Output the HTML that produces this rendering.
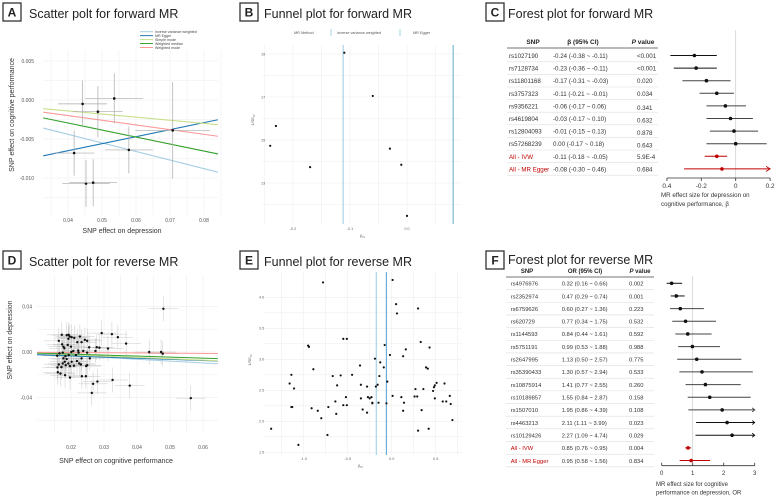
<!DOCTYPE html>
<html><head><meta charset="utf-8"><style>
html,body{margin:0;padding:0;background:#fff;}
svg{display:block;font-family:"Liberation Sans",sans-serif;}
</style></head><body>
<svg id="fig" width="777" height="499" viewBox="0 0 777 499">
<g id="labels"></g>
<g id="pA"></g>
<g id="pB"></g>
<g id="pC"></g>
<g id="pD"></g>
<g id="pE"></g>
<g id="pF"></g>
</svg>
<script>
// ---------- Panel A data ----------
const aX = [0.0443,0.0536,0.0488,0.0418,0.0579,0.0708,0.0453,0.0474];
const aY = [-0.0005,0.0002,-0.0015,-0.0068,-0.0064,-0.0039,-0.0107,-0.0106];
const aXse = [0.0072,0.0085,0.0073,0.006,0.007,0.011,0.007,0.007];
const aYse = [0.003,0.0032,0.0033,0.0029,0.003,0.0062,0.003,0.003];
const aMethods = ["Inverse variance weighted","MR Egger","Simple mode","Weighted median","Weighted mode"];
const aSlopes = [-0.11,0.09,-0.04,-0.09,-0.06];
const aIntercepts = [0,-0.0101,0.0002,0.00065,0.0004];
const aXTicks = [0.04,0.05,0.06,0.07,0.08];
const aYTicks = [0.005,0,-0.005,-0.010];
const aYTickLabels = ["0.005","0.000","-0.005","-0.010"];
// ---------- Panel B data ----------
const bBeta = [-0.11,-0.06,-0.23,-0.24,-0.17,-0.03,-0.01,0.00];
const bPrec = [19.06,17.05,15.65,14.73,13.74,14.6,13.85,11.47];
const bLines = [-0.112,0.081];
const bXTicks = [-0.2,-0.1,0.0];
const bYTicks = [19,17,15,13];
// ---------- Panel C data ----------
const cSnp = ["rs1027190","rs7128734","rs11801168","rs3757323","rs9356221","rs4619804","rs12804093","rs57268239","All - IVW","All - MR Egger"];
const cBeta = [-0.24,-0.23,-0.17,-0.11,-0.06,-0.03,-0.01,0.00,-0.11,-0.08];
const cLo = [-0.38,-0.36,-0.31,-0.21,-0.17,-0.17,-0.15,-0.17,-0.18,-0.30];
const cHi = [-0.11,-0.11,-0.03,-0.01,0.06,0.10,0.13,0.18,-0.05,0.46];
const cCI = ["-0.24 (-0.38 ~ -0.11)","-0.23 (-0.36 ~ -0.11)","-0.17 (-0.31 ~ -0.03)","-0.11 (-0.21 ~ -0.01)","-0.06 (-0.17 ~ 0.06)","-0.03 (-0.17 ~ 0.10)","-0.01 (-0.15 ~ 0.13)","0.00 (-0.17 ~ 0.18)","-0.11 (-0.18 ~ -0.05)","-0.08 (-0.30 ~ 0.46)"];
const cP = ["<0.001","<0.001","0.020","0.034","0.341","0.632","0.878","0.643","5.9E-4","0.684"];
const cXTicks = [-0.4,-0.2,0,0.2];
const cXTickLabels = ["0.4","-0.2","0","0.2"];
// ---------- Panel D data ----------
const dX = [0.0172,0.0163,0.0173,0.0177,0.0187,0.0193,0.0196,0.0202,0.0192,0.0210,0.0227,0.0232,0.0242,0.0249,0.0255,0.0219,0.0190,0.0200,0.0180,0.0158,0.0165,0.0175,0.0183,0.0193,0.0201,0.0207,0.0222,0.0249,0.0257,0.0232,0.0225,0.0218,0.0202,0.0192,0.0181,0.0175,0.0163,0.0159,0.0171,0.0184,0.0197,0.0209,0.0230,0.0249,0.0246,0.0168,0.0182,0.0197,0.0233,0.0245,0.0160,0.0177,0.0187,0.0215,0.0223,0.0237,
 0.048,0.0563,0.0378,0.0326,0.028,0.0267,0.0263,0.0293,0.0324,0.0342,0.0367,0.0312,0.0278,0.0274,0.0286,0.0437,0.0473,0.0478];
const dY = [0.0151,0.0098,0.0068,0.0047,0.0148,0.0151,0.0136,0.0130,0.0116,0.0124,0.0136,0.0086,0.0107,0.0098,0.0041,0.0086,0.0062,0.0047,0.0033,-0.0033,-0.0012,-0.0006,-0.0036,-0.0027,0.0000,0.0009,0.0012,-0.0006,-0.0056,-0.0056,-0.0101,-0.0080,-0.0086,-0.0101,-0.0086,-0.0101,-0.0110,-0.0136,-0.0133,-0.0116,-0.0124,-0.0121,-0.0110,-0.0116,-0.0124,-0.0190,-0.0204,-0.0225,-0.0213,-0.0213,-0.0178,-0.0056,-0.0062,-0.0027,-0.0006,0.0009,
 0.038,-0.0406,-0.0296,-0.0246,-0.026,-0.028,-0.036,0.0166,0.0157,0.013,0.0074,0.003,0.0042,0.0009,0.0038,0.000,0.000,-0.0015];
const dSlopes = [-0.16,-0.10,-0.12,-0.09,-0.02];
const dIntercepts = [0,-0.0015,0,0,0];
const dXTicks = [0.02,0.03,0.04,0.05,0.06];
const dYTicks = [0.04,0,-0.04];
const dYTickLabels = ["0.04","0.00","-0.04"];
// ---------- Panel E data ----------
const eBeta = [-0.78,0.01,0.05,0.06,0.30,0.33,0.43,0.16,0.13,-0.02,-0.08,-0.19,-0.13,-0.09,-0.36,-0.55,-0.51,-0.95,-0.94,-0.89,-1.14,-1.16,-1.11,-1.14,-1.13,-1.37,-1.06,-0.80,-0.84,-0.91,-0.72,-0.73,-0.67,-0.62,-0.58,-0.64,-0.63,-0.55,-0.51,-0.52,-0.45,-0.35,-0.35,-0.33,-0.28,-0.28,-0.27,-0.25,-0.23,-0.22,-0.22,-0.18,-0.16,-0.15,-0.14,-0.05,-0.06,0.01,0.11,0.14,0.13,0.27,0.26,0.29,0.36,0.30,0.39,0.41,0.34,0.42,0.47,0.48,0.49,0.51,0.49,0.60,0.58,0.62,0.66,0.67,0.69];
const ePrec = [4.24,4.28,3.89,3.74,3.82,3.28,3.19,3.16,3.05,3.07,3.23,3.01,2.95,2.87,2.90,3.33,3.33,3.22,3.20,2.84,2.75,2.61,2.53,2.23,2.23,1.88,1.62,2.05,2.17,2.21,2.23,1.78,2.73,2.58,2.74,2.32,2.12,2.26,2.26,2.39,2.75,2.59,2.37,2.19,2.14,2.56,2.39,2.37,2.39,2.30,2.29,2.56,2.59,2.30,2.73,2.64,2.29,2.41,2.39,2.30,2.17,2.52,2.40,2.40,2.52,1.85,2.87,2.85,2.18,1.88,2.49,2.55,2.58,2.62,2.37,2.61,2.32,2.32,2.41,2.28,2.02];
const eLines = [-0.175,-0.06];
const eXTicks = [-1.0,-0.5,0.0,0.5];
const eYTicks = [4.0,3.5,3.0,2.5,2.0,1.5];
// ---------- Panel F data ----------
const fSnp = ["rs4976976","rs2352974","rs6759626","rs620729","rs1144593","rs5751191","rs2647995","rs35390433","rs10875914","rs10189857","rs1507010","rs4463213","rs10129426","All - IVW","All - MR Egger"];
const fOR = [0.32,0.47,0.60,0.77,0.84,0.99,1.13,1.30,1.41,1.55,1.95,2.11,2.27,0.85,0.95];
const fLo = [0.16,0.29,0.27,0.34,0.44,0.53,0.50,0.57,0.77,0.84,0.86,1.11,1.09,0.76,0.58];
const fHi = [0.66,0.74,1.36,1.75,1.61,1.88,2.57,2.94,2.55,2.87,4.39,3.99,4.74,0.95,1.56];
const fCI = ["0.32 (0.16 ~ 0.66)","0.47 (0.29 ~ 0.74)","0.60 (0.27 ~ 1.36)","0.77 (0.34 ~ 1.75)","0.84 (0.44 ~ 1.61)","0.99 (0.53 ~ 1.88)","1.13 (0.50 ~ 2.57)","1.30 (0.57 ~ 2.94)","1.41 (0.77 ~ 2.55)","1.55 (0.84 ~ 2.87)","1.95 (0.86 ~ 4.39)","2.11 (1.11 ~ 3.99)","2.27 (1.09 ~ 4.74)","0.85 (0.76 ~ 0.95)","0.95 (0.58 ~ 1.56)"];
const fP = ["0.002","0.001","0.223","0.532","0.592","0.988","0.775","0.533","0.260","0.158","0.108","0.023","0.029","0.004","0.834"];
const fXTicks = [0,1,2,3];

const NS="http://www.w3.org/2000/svg";
function mk(parent,tag,attrs,text){const e=document.createElementNS(NS,tag);for(const k in attrs)e.setAttribute(k,attrs[k]);if(text!==undefined)e.textContent=text;parent.appendChild(e);return e;}
const $=id=>document.getElementById(id);

// Panel labels + titles
const L=$("labels");
const boxes=[["A",3,3,"Scatter polt for forward MR",29,18],["B",240,3,"Funnel plot for forward MR",264,18],["C",486,3,"Forest plot for forward MR",508,18],
["D",3,251,"Scatter polt for reverse MR",29,266],["E",240,251,"Funnel plot for reverse MR",264,266],["F",486,251,"Forest plot for reverse MR",508,264]];
boxes.forEach(b=>{
  const r=mk(L,"rect",{x:b[1],y:b[2],width:18,height:18,fill:"#fff",stroke:"#333","stroke-width":1.3});
  
  
  const t=mk(L,"text",{x:b[1]+9,y:b[2]+13.5,"text-anchor":"middle","font-size":12,"font-weight":"bold",fill:"#222"},b[0]);
  
  
  const ti=mk(L,"text",{x:b[4],y:b[5],"font-size":12.5,fill:"#222"},b[3]);
  
  
});

// ---------- Panel A ----------
(function(){
  const g=$("pA");
  const x=v=>68+(v-0.04)*3400, y=v=>100-v*7800;
  const X0=43,X1=218,Y0=50,Y1=215;
  [0.035,0.045,0.055,0.065,0.075,0.085].concat(aXTicks).forEach(v=>{const l=mk(g,"line",{x1:x(v),x2:x(v),y1:Y0,y2:Y1,stroke:"#eee","stroke-width":0.6});});
  [0.0025,-0.0025,-0.0075,-0.0125].concat(aYTicks).forEach(v=>{const l=mk(g,"line",{x1:X0,x2:X1,y1:y(v),y2:y(v),stroke:"#eee","stroke-width":0.6});});
  aXTicks.forEach(v=>{const t=mk(g,"text",{x:x(v),y:Y1+7,"text-anchor":"middle","font-size":5,fill:"#555"},v.toFixed(2));});
  aYTicks.forEach((v,i)=>{const t=mk(g,"text",{x:34,y:y(v)+2,"text-anchor":"end","font-size":5,fill:"#555"},aYTickLabels[i]);});
  const colors=["#a6cee3","#1f78b4","#c9df8a","#33a02c","#fb9a99"];
  aMethods.forEach((m,i)=>{
    const v0=0.0327,v1=0.0841;
    const l=mk(g,"line",{x1:x(v0),y1:y(aIntercepts[i]+aSlopes[i]*v0),x2:x(v1),y2:y(aIntercepts[i]+aSlopes[i]*v1),stroke:colors[i],"stroke-width":1.1});
    
    
    const ll=mk(g,"line",{x1:140,x2:153,y1:31.7+i*3.95,y2:31.7+i*3.95,stroke:colors[i],"stroke-width":1});
    
    
    const lt=mk(g,"text",{x:155,y:33+i*3.95,"font-size":3.6,fill:"#444"},m);
    
    
  });
  aX.forEach((v,i)=>{
    const h=mk(g,"line",{x1:x(v-aXse[i]),x2:x(v+aXse[i]),y1:y(aY[i]),y2:y(aY[i]),stroke:"#aaa","stroke-width":0.7});
    
    const vv=mk(g,"line",{x1:x(v),x2:x(v),y1:y(aY[i]-aYse[i]),y2:y(aY[i]+aYse[i]),stroke:"#aaa","stroke-width":0.7});
    
    const c=mk(g,"circle",{cx:x(v),cy:y(aY[i]),r:1.3,fill:"#111"});
    
  });
  const xt=mk(g,"text",{x:122,y:233,"text-anchor":"middle","font-size":7,fill:"#333"},"SNP effect on depression");
  
  const yt=mk(g,"text",{transform:"translate(14,115) rotate(-90)","text-anchor":"middle","font-size":7,fill:"#333"},"SNP effect on cognitive performance");
  
})();

// ---------- Panel B ----------
(function(){
  const g=$("pB");
  const x=v=>407+v*570, y=v=>97-(v-17)*21.5;
  const X0=262,X1=462,Y0=45,Y1=224;
  [-0.25,-0.15,-0.05,0.05].concat(bXTicks).forEach(v=>{const l=mk(g,"line",{x1:x(v),x2:x(v),y1:Y0,y2:Y1,stroke:"#eee","stroke-width":0.6});});
  [18,16,14,12].concat(bYTicks).forEach(v=>{const l=mk(g,"line",{x1:X0,x2:X1,y1:y(v),y2:y(v),stroke:"#eee","stroke-width":0.6});});
  bXTicks.forEach(v=>{const t=mk(g,"text",{x:x(v),y:230,"text-anchor":"middle","font-size":3.8,fill:"#666"},v.toFixed(1));});
  bYTicks.forEach(v=>{const t=mk(g,"text",{x:261,y:y(v)+1.3,"font-size":3.8,fill:"#666"},v);});
  bLines.forEach((v,i)=>{const l=mk(g,"line",{x1:x(v),x2:x(v),y1:Y0,y2:Y1,stroke:i?"#7fb8d4":"#a9d3e6","stroke-width":1.2});});
  bBeta.forEach((v,i)=>{const c=mk(g,"circle",{cx:x(v),cy:y(bPrec[i]),r:1.1,fill:"#111"});});
  [["MR Method",294],["Inverse variance weighted",337],["MR Egger",413]].forEach(a=>{const t=mk(g,"text",{x:a[1],y:34,"font-size":3.8,fill:"#555"},a[0]);});
  [331,400].forEach(xx=>{const l=mk(g,"line",{x1:xx,x2:xx,y1:29,y2:36,stroke:"#a9d3e6","stroke-width":1});});
  const xt=mk(g,"text",{x:360,y:237,"font-size":4,fill:"#666"},"β");
  mk(xt,"tspan",{"font-size":3,dy:1},"IV");
  const yt=mk(g,"text",{transform:"translate(254,120) rotate(-90)","text-anchor":"middle","font-size":4,fill:"#666"},"1/SE");
  mk(yt,"tspan",{"font-size":3,dy:1},"IV");
})();

// ---------- Panel C ----------
(function(){
  const g=$("pC");
  const ry=i=>55.5+i*12.6;
  const x=v=>735.7+v*172;
  [["SNP",533,"normal"],["β (95% CI)",583,"normal"],["P value",643,"normal"]].forEach((h,i)=>{
    const t=mk(g,"text",{x:h[1],y:44,"text-anchor":"middle","font-size":6.5,"font-weight":"bold",fill:"#222"},i==2?"":h[0]);
    if(i==2){mk(t,"tspan",{"font-style":"italic"},"P");mk(t,"tspan",{}," value");}
    
  });
  const hl=mk(g,"line",{x1:507,x2:658,y1:48,y2:48,stroke:"#444","stroke-width":0.8});
  const rl=mk(g,"line",{x1:x(0),x2:x(0),y1:30,y2:178,stroke:"#ccc","stroke-width":0.7});
  cSnp.forEach((s,i)=>{
    const red=i>=8, col=red?"#c00000":"#333";
    const a=mk(g,"text",{x:509,y:ry(i)+2.5,"font-size":6.2,fill:col},s);
    const b=mk(g,"text",{x:553,y:ry(i)+2.5,"font-size":6.2,fill:"#333"},cCI[i]);
    const p=mk(g,"text",{x:637,y:ry(i)+2.5+(i>=4&&i<8?1.5:0),"font-size":6.2,fill:"#333"},cP[i]);
    const sep=mk(g,"line",{x1:507,x2:658,y1:ry(i)+6.3,y2:ry(i)+6.3,stroke:"#ddd","stroke-width":0.6});
    const lc=red?"#c00000":(i<2?"#111":"#444");
    const hi=Math.min(cHi[i],0.2);
    const ci=mk(g,"line",{x1:x(Math.max(cLo[i],-0.4)),x2:x(hi),y1:ry(i),y2:ry(i),stroke:lc,"stroke-width":1});
    if(cHi[i]>0.2){const ar=mk(g,"path",{d:`M${x(0.2)-4},${ry(i)-2.5} L${x(0.2)},${ry(i)} L${x(0.2)-4},${ry(i)+2.5}`,fill:"none",stroke:lc,"stroke-width":0.9});}
    const c=mk(g,"circle",{cx:x(cBeta[i]),cy:ry(i),r:1.8,fill:red?"#c00000":"#111"});
  });
  const ax=mk(g,"line",{x1:x(-0.4),x2:x(0.2),y1:178,y2:178,stroke:"#333","stroke-width":0.8});
  cXTicks.forEach((v,i)=>{
    const tk=mk(g,"line",{x1:x(v),x2:x(v),y1:178,y2:181,stroke:"#333","stroke-width":0.8});
    const t=mk(g,"text",{x:x(v),y:188,"text-anchor":"middle","font-size":6.5,fill:"#333"},cXTickLabels[i]);
  });
  ["MR effect size for depression on","cognitive performance, β"].forEach((s,i)=>{const t=mk(g,"text",{x:661,y:197+i*9,"font-size":6.2,fill:"#333"},s);});
})();

// ---------- Panel D ----------
(function(){
  const g=$("pD");
  const x=v=>71+(v-0.02)*3300, y=v=>352-v*1137;
  const X0=37,X1=218,Y0=275,Y1=432;
  [0.015,0.025,0.035,0.045,0.055].concat(dXTicks).forEach(v=>{const l=mk(g,"line",{x1:x(v),x2:x(v),y1:Y0,y2:Y1,stroke:"#eee","stroke-width":0.6});});
  [0.02,-0.02,-0.06].concat(dYTicks).forEach(v=>{const l=mk(g,"line",{x1:X0,x2:X1,y1:y(v),y2:y(v),stroke:"#eee","stroke-width":0.6});});
  dXTicks.forEach(v=>{const t=mk(g,"text",{x:x(v),y:449,"text-anchor":"middle","font-size":5,fill:"#555"},v.toFixed(2));});
  dYTicks.forEach((v,i)=>{const t=mk(g,"text",{x:32,y:y(v)+2,"text-anchor":"end","font-size":5,fill:"#555"},dYTickLabels[i]);});
  dX.forEach((v,i)=>{
    const h=mk(g,"line",{x1:x(v-0.0045),x2:x(v+0.0045),y1:y(dY[i]),y2:y(dY[i]),stroke:"#bbb","stroke-width":0.5,"stroke-opacity":0.8});
    
    const vv=mk(g,"line",{x1:x(v),x2:x(v),y1:y(dY[i]-0.011),y2:y(dY[i]+0.011),stroke:"#bbb","stroke-width":0.5,"stroke-opacity":0.8});
    
  });
  const colors=["#a6cee3","#1f78b4","#c9df8a","#33a02c","#fb9a99"];
  dSlopes.forEach((s,i)=>{
    const v0=0.0097,v1=0.0645;
    const l=mk(g,"line",{x1:x(v0),y1:y(dIntercepts[i]+s*v0),x2:x(v1),y2:y(dIntercepts[i]+s*v1),stroke:colors[i],"stroke-width":1});
    
  });
  dX.forEach((v,i)=>{const c=mk(g,"circle",{cx:x(v),cy:y(dY[i]),r:1.2,fill:"#111"});});
  const xt=mk(g,"text",{x:116,y:463,"text-anchor":"middle","font-size":7,fill:"#333"},"SNP effect on cognitive performance");
  
  const yt=mk(g,"text",{transform:"translate(12,340) rotate(-90)","text-anchor":"middle","font-size":7,fill:"#333"},"SNP effect on depression");
  
})();

// ---------- Panel E ----------
(function(){
  const g=$("pE");
  const x=v=>391.7+v*88, y=v=>359.3-(v-3)*62;
  const X0=263,X1=462,Y0=272,Y1=455;
  [-1.25,-0.75,-0.25,0.25,0.75].concat(eXTicks).forEach(v=>{const l=mk(g,"line",{x1:x(v),x2:x(v),y1:Y0,y2:Y1,stroke:"#eee","stroke-width":0.6});});
  [3.75,3.25,2.75,2.25,1.75].concat(eYTicks).forEach(v=>{const l=mk(g,"line",{x1:X0,x2:X1,y1:y(v),y2:y(v),stroke:"#eee","stroke-width":0.6});});
  eXTicks.forEach(v=>{const t=mk(g,"text",{x:x(v),y:460,"text-anchor":"middle","font-size":3.8,fill:"#666"},v.toFixed(1));});
  eYTicks.forEach(v=>{const t=mk(g,"text",{x:259,y:y(v)+1.3,"font-size":3.8,fill:"#666"},v.toFixed(1));});
  eLines.forEach((v,i)=>{const l=mk(g,"line",{x1:x(v),x2:x(v),y1:Y0,y2:Y1,stroke:i?"#6baed6":"#a9d3e6","stroke-width":1.2});});
  eBeta.forEach((v,i)=>{const c=mk(g,"circle",{cx:x(v),cy:y(ePrec[i]),r:1.1,fill:"#111"});});
  const xt=mk(g,"text",{x:358,y:467,"font-size":4,fill:"#666"},"β");
  mk(xt,"tspan",{"font-size":3,dy:1},"IV");
  const yt=mk(g,"text",{transform:"translate(251,360) rotate(-90)","text-anchor":"middle","font-size":4,fill:"#666"},"1/SE");
  mk(yt,"tspan",{"font-size":3,dy:1},"IV");
})();

// ---------- Panel F ----------
(function(){
  const g=$("pF");
  const ry=i=>283.3+i*12.66;
  const x=v=>661.7+v*31;
  [["SNP",527],["OR (95% CI)",585],["P value",640]].forEach((h,i)=>{
    const t=mk(g,"text",{x:h[1],y:273,"text-anchor":"middle","font-size":6,"font-weight":"bold",fill:"#222"},i==2?"":h[0]);
    if(i==2){mk(t,"tspan",{"font-style":"italic"},"P");mk(t,"tspan",{}," value");}
    
  });
  const hl=mk(g,"line",{x1:506,x2:654,y1:277,y2:277,stroke:"#444","stroke-width":0.8});
  const rl=mk(g,"line",{x1:x(1),x2:x(1),y1:276,y2:466,stroke:"#ccc","stroke-width":0.7});
  fSnp.forEach((s,i)=>{
    const red=i>=13, col=red?"#c00000":"#333";
    const a=mk(g,"text",{x:510.7,y:ry(i)+2.3,"font-size":5.8,fill:col},s);
    const b=mk(g,"text",{x:561.7,y:ry(i)+2.3,"font-size":5.8,fill:"#333"},fCI[i]);
    const p=mk(g,"text",{x:629,y:ry(i)+2.3,"font-size":5.8,fill:"#333"},fP[i]);
    const sep=mk(g,"line",{x1:506,x2:654,y1:ry(i)+6.3,y2:ry(i)+6.3,stroke:"#ddd","stroke-width":0.6});
    const lc=red?"#c00000":(i<2||i>=11?"#111":"#444");
    const hi=Math.min(fHi[i],3);
    const ci=mk(g,"line",{x1:x(fLo[i]),x2:x(hi),y1:ry(i),y2:ry(i),stroke:lc,"stroke-width":1});
    if(fHi[i]>3){const ar=mk(g,"path",{d:`M${x(3)-2.5},${ry(i)-2} L${x(3)},${ry(i)} L${x(3)-2.5},${ry(i)+2}`,fill:"none",stroke:lc,"stroke-width":0.9});}
    const c=mk(g,"circle",{cx:x(fOR[i]),cy:ry(i),r:1.8,fill:red?"#c00000":"#111"});
  });
  const ax=mk(g,"line",{x1:x(0),x2:x(3),y1:465.7,y2:465.7,stroke:"#333","stroke-width":0.8});
  fXTicks.forEach(v=>{
    const tk=mk(g,"line",{x1:x(v),x2:x(v),y1:462.7,y2:465.7,stroke:"#333","stroke-width":0.8});
    const t=mk(g,"text",{x:x(v),y:475,"text-anchor":"middle","font-size":6,fill:"#333"},v);
  });
  ["MR effect size for cognitive","performance on depression, OR"].forEach((s,i)=>{const t=mk(g,"text",{x:656,y:486+i*8.5,"font-size":6,fill:"#333"},s);});
})();
</script>
</body></html>
